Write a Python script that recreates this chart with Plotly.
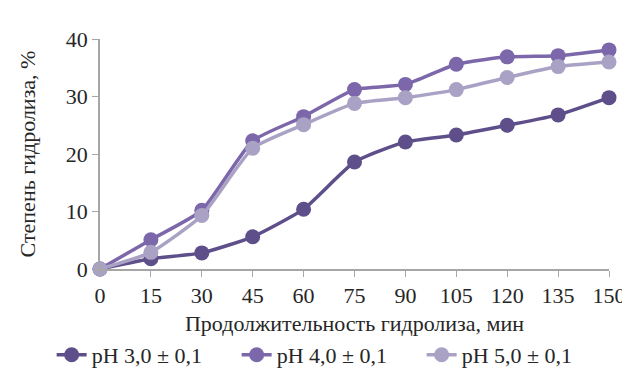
import plotly.graph_objects as go

time_min = [0, 15, 30, 45, 60, 75, 90, 105, 120, 135, 150]
ph3 = [0, 1.8, 2.8, 5.6, 10.4, 18.6, 22.1, 23.3, 25.0, 26.8, 29.8]
ph4 = [0, 5.1, 10.2, 22.3, 26.5, 31.2, 32.1, 35.6, 36.9, 37.1, 38.1]
ph5 = [0, 2.9, 9.3, 21.0, 25.1, 28.8, 29.8, 31.2, 33.3, 35.2, 36.0]
series_names = ["pH 3,0 ± 0,1", "pH 4,0 ± 0,1", "pH 5,0 ± 0,1"]
colors = ["#5e4f8a", "#7b67a9", "#aaa2c4"]
y_ticks = [0, 10, 20, 30, 40]

fam = "Liberation Serif"
fig = go.Figure()
for name, vals, col in zip(series_names, [ph3, ph4, ph5], colors):
    fig.add_trace(go.Scatter(
        x=time_min, y=vals, name=name, mode="lines+markers",
        line=dict(color=col, width=3.5, shape="spline", smoothing=0.5),
        marker=dict(color=col, size=15),
        cliponaxis=False,
    ))

fig.update_layout(
    width=630, height=380,
    margin=dict(l=92, r=20, t=31, b=112),
    paper_bgcolor="white", plot_bgcolor="white",
    font=dict(family=fam, size=22, color="#262626"),
    showlegend=True,
    legend=dict(orientation="h", x=-0.095, xanchor="left",
                y=-0.465, yanchor="bottom",
                font=dict(family=fam, size=22, color="#262626"),
                entrywidth=140, tracegroupgap=0),
)
fig.update_xaxes(
    range=[0, 150], tickvals=time_min, ticktext=[str(t) for t in time_min],
    showline=True, linecolor="#a6a6a6", linewidth=1.5,
    ticks="outside", tickcolor="#a6a6a6", ticklen=6,
    showgrid=False, zeroline=False,
    title=dict(text="Продолжительность гидролиза, мин", standoff=8,
               font=dict(family=fam, size=22, color="#262626")),
    tickfont=dict(family=fam, size=22, color="#262626"),
)
fig.update_yaxes(
    range=[0, 40], tickvals=y_ticks,
    showline=True, linecolor="#a6a6a6", linewidth=1.5,
    ticks="outside", tickcolor="#a6a6a6", ticklen=6,
    showgrid=False, zeroline=False,
    title=dict(text="Степень гидролиза, %", standoff=24,
               font=dict(family=fam, size=22, color="#262626")),
    tickfont=dict(family=fam, size=22, color="#262626"),
)
fig.write_html("out.html")
